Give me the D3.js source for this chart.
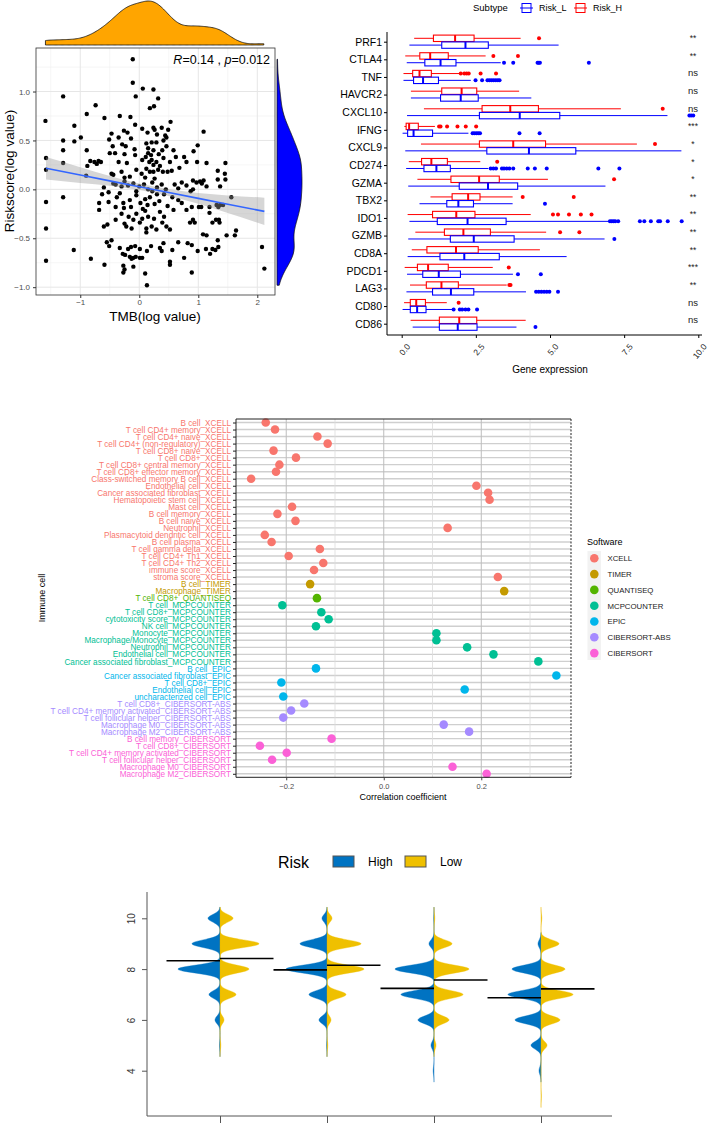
<!DOCTYPE html>
<html>
<head>
<meta charset="utf-8">
<script src="https://cdn.jsdelivr.net/npm/d3@7"></script>
<style>
body { margin: 0; background: #fff; }
svg { display: block; font-family: "Liberation Sans", Arial, sans-serif; }
</style>
</head>
<body>
<svg id="fig" width="709" height="1124"></svg>
<script>
// ---------- data: panel A (TMB vs riskscore) ----------
const scatterPts = [
  [-0.11,1.33],[-0.11,1.09],[0.06,1.03],[0.24,1.02],[-0.06,0.95],[-1.29,0.95],[0.32,0.93],[-0.74,0.86],[0.18,0.83],[0.25,0.85],
  [-0.89,0.77],[-0.59,0.73],[-0.33,0.75],[-0.15,0.74],[-1.59,0.70],[0.53,0.69],[-1.10,0.65],[-0.07,0.66],[0.05,0.62],[0.24,0.63],
  [0.26,0.61],[0.38,0.63],[-0.47,0.57],[-0.26,0.60],[-0.20,0.58],[1.09,0.59],[0.49,0.61],[0.14,0.58],[0.30,0.56],[0.44,0.55],
  [-1.29,0.50],[-0.99,0.53],[-1.10,0.49],[-0.51,0.51],[-0.35,0.53],[-0.14,0.52],[0.12,0.47],[0.21,0.48],[0.29,0.48],[0.41,0.50],
  [0.46,0.53],[0.99,0.45],[0.92,0.39],[-1.29,0.40],[-0.89,0.40],[-0.45,0.44],[-0.41,0.37],[-0.50,0.37],[-0.29,0.46],[-0.23,0.44],
  [-0.25,0.36],[-0.08,0.41],[-0.07,0.35],[0.15,0.42],[0.24,0.40],[0.39,0.40],[0.46,0.44],[0.58,0.40],[0.76,0.33],[0.80,0.28],
  [0.62,0.33],[-1.58,0.32],[-1.29,0.27],[-0.83,0.29],[-0.76,0.28],[-0.72,0.26],[-0.69,0.29],[-0.65,0.28],[-0.88,0.24],[-0.21,0.27],
  [0.11,0.33],[0.17,0.28],[0.21,0.30],[0.24,0.25],[0.29,0.28],[0.35,0.24],[0.41,0.32],[0.98,0.28],[1.14,0.27],[1.46,0.27],
  [0.15,0.37],[0.20,0.35],[0.05,0.30],[-0.35,0.28],[0.52,0.28],[0.68,0.22],[0.33,0.36],
  [1.33,0.19],[1.45,0.16],[1.46,0.10],[1.33,0.10],[-1.58,0.20],[-0.47,0.16],[-0.44,0.15],[-0.30,0.18],[-0.90,0.14],[-0.16,0.13],
  [-0.05,0.20],[0.04,0.16],[0.12,0.21],[0.18,0.18],[0.24,0.18],[0.32,0.20],[0.40,0.18],[0.48,0.18],[0.55,0.19],[-0.44,0.06],
  [-0.30,0.03],[-0.19,0.04],[0.91,0.09],[0.97,0.07],[1.03,0.08],[1.06,0.06],[1.09,0.09],[0.80,0.04],[0.87,-0.02],[0.91,0.00],
  [1.14,0.03],[1.37,0.03],[-0.60,0.02],[-0.52,-0.03],[-0.40,0.05],[-0.25,0.08],[-0.10,0.06],[0.00,0.03],[0.08,0.05],[0.15,0.00],
  [0.22,0.07],[0.30,0.02],[0.38,0.05],[0.45,0.00],[0.60,0.05],[0.66,0.01],[0.72,0.07],[-0.05,-0.02],[0.26,0.11],[-0.25,0.12],[0.10,0.12],
  [-1.58,-0.13],[-1.29,-0.08],[-0.63,-0.05],[-0.68,-0.14],[-0.68,-0.21],[-0.38,-0.08],[-0.33,-0.04],[-0.27,-0.14],[-0.26,-0.19],[-0.16,-0.11],
  [-0.05,-0.06],[0.02,-0.14],[0.10,-0.10],[0.18,-0.08],[0.26,-0.15],[0.34,-0.12],[0.42,-0.05],[0.56,-0.08],[0.58,-0.21],[0.66,-0.11],
  [0.72,-0.14],[0.80,-0.21],[0.89,-0.18],[1.01,-0.18],[1.05,-0.18],[1.19,-0.18],[1.31,-0.16],[1.34,-0.18],[1.37,-0.16],[1.42,-0.16],
  [1.56,-0.08],[-0.40,-0.18],[-0.14,-0.18],[0.06,-0.20],[0.30,-0.05],[0.48,-0.17],[-0.52,-0.13],[0.14,-0.16],[0.22,-0.02],
  [1.19,-0.24],[1.24,-0.34],[1.35,-0.31],[1.36,-0.34],[1.30,-0.31],[0.86,-0.34],[0.91,-0.31],[0.94,-0.34],[-0.54,-0.36],[-0.60,-0.38],
  [-1.58,-0.40],[-0.40,-0.31],[-0.25,-0.35],[-0.22,-0.38],[-0.13,-0.40],[-0.10,-0.31],[0.01,-0.34],[0.12,-0.40],[0.12,-0.44],[0.21,-0.38],
  [0.29,-0.41],[0.39,-0.34],[0.46,-0.38],[0.52,-0.41],[1.64,-0.42],[1.48,-0.47],[1.62,-0.47],[1.08,-0.46],[1.14,-0.47],[-0.30,-0.25],
  [-0.05,-0.25],[0.15,-0.28],[0.35,-0.23],[0.05,-0.30],[0.25,-0.30],[-0.18,-0.28],[0.42,-0.28],[0.10,-0.22],
  [0.66,-0.54],[0.82,-0.55],[0.89,-0.57],[1.33,-0.52],[1.34,-0.59],[1.24,-0.61],[1.29,-0.62],[-0.55,-0.54],[-0.47,-0.52],[-0.51,-0.58],
  [-1.11,-0.62],[-0.82,-0.71],[-0.59,-0.77],[-1.58,-0.73],[-0.33,-0.60],[-0.28,-0.66],[-0.24,-0.67],[-0.19,-0.61],[-0.14,-0.59],[-0.07,-0.58],
  [-0.16,-0.69],[-0.13,-0.71],[-0.10,-0.70],[-0.27,-0.78],[-0.25,-0.82],[-0.10,-0.79],[-0.06,-0.69],[0.01,-0.70],[0.05,-0.70],[0.13,-0.63],
  [0.20,-0.58],[0.35,-0.60],[0.38,-0.63],[0.41,-0.55],[0.01,-0.61],[0.52,-0.74],[0.52,-0.77],[0.76,-0.70],[0.89,-0.85],[0.10,-0.86],
  [0.13,-0.98],[-0.27,-0.85],[2.08,-0.59],[2.12,-0.81],[0.99,-0.63],[1.13,-0.61],[1.20,-0.66],[0.56,-0.62]
];
// fitted line and its confidence band
const fitX  = [-1.58, -1.0, -0.5, 0.0, 0.5, 1.0, 1.5, 2.12];
const fitY  = [0.215, 0.146, 0.087, 0.027, -0.033, -0.092, -0.152, -0.225];
const fitLo = [0.100, 0.066, 0.037, -0.006, -0.068, -0.147, -0.242, -0.365];
const fitHi = [0.330, 0.226, 0.137, 0.060, 0.002, -0.037, -0.062, -0.085];

// ---------- data: panel B (checkpoint genes) ----------
const genes = ['PRF1','CTLA4','TNF','HAVCR2','CXCL10','IFNG','CXCL9','CD274','GZMA','TBX2','IDO1','GZMB','CD8A','PDCD1','LAG3','CD80','CD86'];
const sigLabels = ['**','**','ns','ns','ns','***','*','*','*','**','**','**','**','***','**','ns','ns'];
// [lower whisker, q1, median, q3, upper whisker]
const boxH = [
  [0.42,1.07,1.80,2.44,4.01],[0.12,0.61,0.96,1.57,2.83],[0.06,0.37,0.60,1.00,1.97],[0.31,1.35,2.02,2.53,3.96],
  [0.75,2.71,3.66,4.61,7.39],[0.09,0.15,0.25,0.56,1.12],[0.65,2.62,3.76,4.85,7.93],[0.24,0.67,1.00,1.54,2.65],
  [0.53,1.66,2.61,3.29,4.93],[0.97,1.70,2.24,2.64,3.74],[0.20,1.04,1.84,2.47,4.35],[0.46,1.44,2.08,2.99,4.87],
  [0.34,0.85,1.83,2.58,4.66],[0.10,0.53,0.89,1.57,3.07],[0.28,0.83,1.34,1.91,3.54],[0.08,0.29,0.49,0.80,1.52],
  [0.30,1.27,1.94,2.53,4.18]
];
const boxL = [
  [0.26,1.35,2.15,2.92,5.29],[0.17,0.78,1.31,1.83,3.34],[0.06,0.40,0.72,1.24,2.33],[0.31,1.31,1.99,2.58,4.37],
  [0.18,2.62,3.98,5.33,8.96],[0.03,0.20,0.40,1.04,2.25],[0.12,2.87,4.29,5.87,9.43],[0.15,0.75,1.17,1.64,2.92],
  [0.22,1.94,2.91,3.91,6.87],[0.60,1.52,1.91,2.42,3.74],[0.26,1.20,2.22,3.52,6.97],[0.22,1.64,2.43,3.79,6.84],
  [0.20,1.29,2.11,3.29,5.56],[0.18,0.71,1.25,1.98,3.75],[0.16,1.04,1.66,2.43,4.19],[0.03,0.29,0.52,0.82,1.73],
  [0.37,1.27,1.89,2.54,3.87]
];
const outH = [
  [4.63],[3.09,3.92],[1.99,2.11,2.19,2.26,2.66,3.18],[],[8.80],[1.26,1.31,1.53,1.88,2.16,2.51],[8.54],[3.22],
  [7.16],[4.08,5.80],[5.10,5.27,5.64,6.04,6.40],[5.34,5.99],[],[3.61],[3.63,3.67],[1.92],[]
];
const outL = [
  [],[3.45,3.76,4.58,4.62,4.66,6.31],[2.49,2.71,2.89,2.96,3.03,3.10,3.17,3.24,3.30],[],[9.70,9.76,9.83],
  [2.39,2.45,2.52,2.58,2.64,3.97,4.65],[],[3.00,3.09,3.18,3.38,3.45,3.54,3.63,3.76,4.25,4.49,4.89,6.63,7.34],
  [],[4.83],[7.02,7.08,7.14,7.20,7.30,8.03,8.18,8.40,8.65,8.71,8.97,9.44],[7.17],[],[3.92,4.69],
  [4.53,4.62,4.71,4.80,4.89,4.98,5.27],[1.75,1.96,2.04,2.15,2.25,2.54],[4.51]
];
const xTicksB = [0, 2.5, 5, 7.5, 10];

// ---------- data: panel C (immune cell correlation) ----------
const cellLabels = [
  'B cell_XCELL','T cell CD4+ memory_XCELL','T cell CD4+ naive_XCELL','T cell CD4+ (non-regulatory)_XCELL',
  'T cell CD8+ naive_XCELL','T cell CD8+_XCELL','T cell CD8+ central memory_XCELL','T cell CD8+ effector memory_XCELL',
  'Class-switched memory B cell_XCELL','Endothelial cell_XCELL','Cancer associated fibroblast_XCELL',
  'Hematopoietic stem cell_XCELL','Mast cell_XCELL','B cell memory_XCELL','B cell naive_XCELL','Neutrophil_XCELL',
  'Plasmacytoid dendritic cell_XCELL','B cell plasma_XCELL','T cell gamma delta_XCELL','T cell CD4+ Th1_XCELL',
  'T cell CD4+ Th2_XCELL','immune score_XCELL','stroma score_XCELL','B cell_TIMER','Macrophage_TIMER',
  'T cell CD8+_QUANTISEQ','T cell_MCPCOUNTER','T cell CD8+_MCPCOUNTER','cytotoxicity score_MCPCOUNTER',
  'NK cell_MCPCOUNTER','Monocyte_MCPCOUNTER','Macrophage/Monocyte_MCPCOUNTER','Neutrophil_MCPCOUNTER',
  'Endothelial cell_MCPCOUNTER','Cancer associated fibroblast_MCPCOUNTER','B cell_EPIC',
  'Cancer associated fibroblast_EPIC','T cell CD8+_EPIC','Endothelial cell_EPIC','uncharacterized cell_EPIC',
  'T cell CD8+_CIBERSORT-ABS','T cell CD4+ memory activated_CIBERSORT-ABS','T cell follicular helper_CIBERSORT-ABS',
  'Macrophage M0_CIBERSORT-ABS','Macrophage M2_CIBERSORT-ABS','B cell memory_CIBERSORT','T cell CD8+_CIBERSORT',
  'T cell CD4+ memory activated_CIBERSORT','T cell follicular helper_CIBERSORT','Macrophage M0_CIBERSORT',
  'Macrophage M2_CIBERSORT'
];
const cellCor = [
  -0.242,-0.223,-0.136,-0.115,-0.226,-0.180,-0.214,-0.221,-0.272,0.190,0.214,0.217,-0.188,-0.218,-0.181,0.131,
  -0.244,-0.230,-0.131,-0.195,-0.124,-0.143,0.234,-0.151,0.247,-0.137,-0.208,-0.128,-0.113,-0.139,0.108,0.108,
  0.171,0.225,0.317,-0.139,0.354,-0.210,0.166,-0.206,-0.163,-0.190,-0.206,0.123,0.175,-0.107,-0.254,-0.199,
  -0.229,0.141,0.211
];
const software = ['XCELL','TIMER','QUANTISEQ','MCPCOUNTER','EPIC','CIBERSORT-ABS','CIBERSORT'];
const swColors = ['#F8766D','#C49A00','#53B400','#00C094','#00B6EB','#A58AFF','#FB61D7'];

// ---------- data: panel D (split violins) ----------
const vioGroups = ['G1','G2','G3','G4'];
const vioLevels = [3,4,5,6,7,8,9,10];
const highFreq = [
  [0, 0, 0.5, 5, 11, 42, 28, 12],
  [0, 0, 0.4, 8, 18, 41, 27, 5],
  [0, 0.8, 3, 16, 33, 39, 5, 0.3],
  [0, 2, 10, 26, 33, 29, 3, 0]
];
const lowFreq = [
  [0, 0, 0.8, 4, 16, 29, 39, 13],
  [0, 0, 0.8, 4, 19, 37, 34, 5],
  [0, 0, 2, 15, 29, 35, 18, 0.8],
  [0.4, 0, 6, 19, 32, 24, 18, 0.8]
];
const highMean = [8.33, 7.97, 7.24, 6.87];
const lowMean  = [8.42, 8.15, 7.57, 7.22];
const yTicksD = [4, 6, 8, 10];

const svg = d3.select('#fig');
const minus = s => String(s).replace('-', '\u2212');

function kde(values, bw, grid) {
  return grid.map(g => [g, d3.mean(values, v => Math.exp(-0.5 * ((g - v) / bw) ** 2))]);
}

// =============== Panel A ===============
function drawScatter() {
  const g = svg.append('g');
  const ax = d3.scaleLinear().domain([-1.75, 2.3]).range([36, 275]);
  const ay = d3.scaleLinear().domain([-1.08, 1.445]).range([295, 48]);

  g.append('rect').attr('x', 36).attr('y', 48).attr('width', 239).attr('height', 247).attr('fill', '#fff');
  [-1.5, -0.5, 0.5, 1.5].forEach(v => g.append('line').attr('x1', ax(v)).attr('x2', ax(v)).attr('y1', 48).attr('y2', 295)
    .attr('stroke', '#F0F0F0').attr('stroke-width', 0.6));
  [-0.75, -0.25, 0.25, 0.75, 1.25].forEach(v => g.append('line').attr('y1', ay(v)).attr('y2', ay(v)).attr('x1', 36).attr('x2', 275)
    .attr('stroke', '#F0F0F0').attr('stroke-width', 0.6));
  [-1, 0, 1, 2].forEach(v => g.append('line').attr('x1', ax(v)).attr('x2', ax(v)).attr('y1', 48).attr('y2', 295)
    .attr('stroke', '#E6E6E6').attr('stroke-width', 1));
  [-1, -0.5, 0, 0.5, 1].forEach(v => g.append('line').attr('y1', ay(v)).attr('y2', ay(v)).attr('x1', 36).attr('x2', 275)
    .attr('stroke', '#E6E6E6').attr('stroke-width', 1));

  g.selectAll('circle.pt').data(scatterPts).enter().append('circle')
    .attr('cx', d => ax(d[0])).attr('cy', d => ay(d[1])).attr('r', 2.2).attr('fill', '#000');

  const band = fitX.map((x, i) => ({ x, lo: fitLo[i], hi: fitHi[i], y: fitY[i] }));
  g.append('path').datum(band)
    .attr('d', d3.area().x(d => ax(d.x)).y0(d => ay(d.lo)).y1(d => ay(d.hi)).curve(d3.curveMonotoneX))
    .attr('fill', '#999').attr('opacity', 0.4);
  g.append('path').datum(band)
    .attr('d', d3.line().x(d => ax(d.x)).y(d => ay(d.y)))
    .attr('fill', 'none').attr('stroke', '#3366FF').attr('stroke-width', 1.6);

  g.append('rect').attr('x', 36).attr('y', 48).attr('width', 239).attr('height', 247)
    .attr('fill', 'none').attr('stroke', '#333').attr('stroke-width', 0.8);

  // axes
  const xa = g.append('g').attr('transform', 'translate(0,295)')
    .call(d3.axisBottom(ax).tickValues([-1, 0, 1, 2]).tickSize(3).tickPadding(1.5).tickFormat(d => minus(d)));
  const ya = g.append('g').attr('transform', 'translate(36,0)')
    .call(d3.axisLeft(ay).tickValues([-1, -0.5, 0, 0.5, 1]).tickSize(3).tickFormat(d => minus(d3.format('.1f')(d))));
  [xa, ya].forEach(a => {
    a.select('.domain').remove();
    a.selectAll('line').attr('stroke', '#333');
    a.selectAll('text').attr('fill', '#4D4D4D').attr('font-size', 8).attr('font-family', 'Liberation Sans, Arial');
  });

  g.append('text').attr('x', 155).attr('y', 321).attr('text-anchor', 'middle').attr('font-size', 13.5).text('TMB(log value)');
  g.append('text').attr('transform', 'translate(14,171) rotate(-90)').attr('text-anchor', 'middle')
    .attr('font-size', 13.5).text('Riskscore(log value)');

  const rt = g.append('text').attr('x', 270).attr('y', 64).attr('text-anchor', 'end').attr('font-size', 12.5);
  rt.append('tspan').attr('font-style', 'italic').text('R');
  rt.append('tspan').text('=0.14 , ');
  rt.append('tspan').attr('font-style', 'italic').text('p');
  rt.append('tspan').text('=0.012');

  // marginal densities
  const xs = scatterPts.map(d => d[0]);
  const ys = scatterPts.map(d => d[1]);
  const topD = kde(xs, 0.17, d3.range(d3.min(xs), d3.max(xs) + 0.001, 0.02));
  const th = d3.scaleLinear().domain([0, d3.max(topD, d => d[1])]).range([45, 1]);
  g.append('path').datum(topD)
    .attr('d', d3.area().x(d => ax(d[0])).y0(45).y1(d => th(d[1])).curve(d3.curveBasis))
    .attr('fill', '#FFA500').attr('stroke', '#111').attr('stroke-width', 0.8);

  const rightD = kde(ys, 0.12, d3.range(d3.min(ys), d3.max(ys) + 0.001, 0.01));
  const rw = d3.scaleLinear().domain([0, d3.max(rightD, d => d[1])]).range([277, 302]);
  g.append('path').datum(rightD)
    .attr('d', d3.area().y(d => ay(d[0])).x0(277).x1(d => rw(d[1])).curve(d3.curveBasis))
    .attr('fill', '#0000FF').attr('stroke', '#111').attr('stroke-width', 0.8);
}

// =============== Panel B ===============
function drawBoxes() {
  const g = svg.append('g');
  const by = d3.scalePoint().domain(genes).range([41.7, 323.7]);
  const bx = d3.scaleLinear().domain([0, 10]).range([401.7, 698.3]);

  function box(stats, outs, gene, off, color) {
    const yc = by(gene) + off;
    const [lo, q1, md, q3, hi] = stats;
    g.append('line').attr('x1', bx(lo)).attr('x2', bx(q1)).attr('y1', yc).attr('y2', yc).attr('stroke', color).attr('stroke-width', 1);
    g.append('line').attr('x1', bx(q3)).attr('x2', bx(hi)).attr('y1', yc).attr('y2', yc).attr('stroke', color).attr('stroke-width', 1);
    g.append('rect').attr('x', bx(q1)).attr('y', yc - 3.2).attr('width', bx(q3) - bx(q1)).attr('height', 6.4)
      .attr('fill', 'none').attr('stroke', color).attr('stroke-width', 1.1);
    g.append('line').attr('x1', bx(md)).attr('x2', bx(md)).attr('y1', yc - 3.2).attr('y2', yc + 3.2)
      .attr('stroke', color).attr('stroke-width', 2);
    outs.forEach(v => g.append('circle').attr('cx', bx(v)).attr('cy', yc).attr('r', 2).attr('fill', color));
  }
  genes.forEach((gene, i) => {
    box(boxH[i], outH[i], gene, -3.4, '#FF0000');
    box(boxL[i], outL[i], gene, 3.4, '#0000FF');
    g.append('text').attr('x', 693).attr('y', by(gene) - 0.5).attr('text-anchor', 'middle')
      .attr('font-size', sigLabels[i] === 'ns' ? 9.5 : 8.5).attr('fill', '#222').text(sigLabels[i]);
  });

  // y axis
  const ya = g.append('g').attr('transform', 'translate(387,0)').call(d3.axisLeft(by).tickSize(3).tickPadding(2));
  ya.select('.domain').attr('d', 'M0,32V335').attr('stroke', '#000');
  ya.selectAll('line').attr('stroke', '#000');
  ya.selectAll('text').attr('font-size', 10.5).attr('fill', '#000').attr('font-family', 'Liberation Sans, Arial');

  // x axis
  const xa = g.append('g').attr('transform', 'translate(0,335)')
    .call(d3.axisBottom(bx).tickValues(xTicksB).tickSize(3).tickFormat(d3.format('.1f')));
  xa.select('.domain').attr('d', 'M387,0H702').attr('stroke', '#000');
  xa.selectAll('line').attr('stroke', '#000');
  xa.selectAll('text').attr('font-size', 8.5).attr('fill', '#222').attr('font-family', 'Liberation Sans, Arial')
    .attr('text-anchor', 'end').attr('dy', 0).attr('transform', 'translate(4,8) rotate(-50)');
  g.append('text').attr('x', 550).attr('y', 373).attr('text-anchor', 'middle').attr('font-size', 10).text('Gene expression');

  // legend
  g.append('text').attr('x', 473).attr('y', 11).attr('font-size', 9.5).text('Subtype');
  [['Risk_L', '#0000FF', 520], ['Risk_H', '#FF0000', 574]].forEach(([lab, col, x0]) => {
    g.append('line').attr('x1', x0).attr('x2', x0 + 13).attr('y1', 8).attr('y2', 8).attr('stroke', col).attr('stroke-width', 1);
    g.append('rect').attr('x', x0 + 2).attr('y', 3.5).attr('width', 9).attr('height', 9).attr('fill', '#fff').attr('stroke', col).attr('stroke-width', 1);
    g.append('line').attr('x1', x0 + 2).attr('x2', x0 + 11).attr('y1', 8).attr('y2', 8).attr('stroke', col).attr('stroke-width', 1);
    g.append('text').attr('x', x0 + 19).attr('y', 11).attr('font-size', 9).text(lab);
  });
}

// =============== Panel C ===============
function drawCor() {
  const g = svg.append('g');
  const cx = d3.scaleLinear().domain([-0.303, 0.384]).range([236, 571]);
  const cy = d3.scalePoint().domain(cellLabels).range([419, 777.3]).padding(0.5);
  const col = d3.scaleOrdinal().domain(software).range(swColors);
  const swOf = lab => lab.slice(lab.lastIndexOf('_') + 1);

  g.append('rect').attr('x', 236).attr('y', 419).attr('width', 335).attr('height', 358.3).attr('fill', '#fff');
  cellLabels.forEach(lab => g.append('line').attr('x1', 236).attr('x2', 571).attr('y1', cy(lab)).attr('y2', cy(lab))
    .attr('stroke', '#CFCFCF').attr('stroke-width', 1.4));
  [-0.1, 0.1, 0.3].forEach(v => g.append('line').attr('x1', cx(v)).attr('x2', cx(v)).attr('y1', 419).attr('y2', 777.3)
    .attr('stroke', '#DCDCDC').attr('stroke-width', 0.8));
  [-0.2, 0, 0.2].forEach(v => g.append('line').attr('x1', cx(v)).attr('x2', cx(v)).attr('y1', 419).attr('y2', 777.3)
    .attr('stroke', '#BDBDBD').attr('stroke-width', 1));

  g.selectAll('circle.dot').data(cellLabels).enter().append('circle')
    .attr('cx', (d, i) => cx(cellCor[i])).attr('cy', d => cy(d)).attr('r', 4.3)
    .attr('fill', d => col(swOf(d)));

  // frame
  g.append('line').attr('x1', 236).attr('x2', 571).attr('y1', 419).attr('y2', 419).attr('stroke', '#222').attr('stroke-width', 1);
  g.append('line').attr('x1', 236).attr('x2', 571).attr('y1', 777.3).attr('y2', 777.3).attr('stroke', '#222').attr('stroke-width', 1);
  g.append('line').attr('x1', 571).attr('x2', 571).attr('y1', 419).attr('y2', 777.3).attr('stroke', '#222')
    .attr('stroke-width', 1).attr('stroke-dasharray', '2,1.5');

  const ya = g.append('g').attr('transform', 'translate(236,0)').call(d3.axisLeft(cy).tickSize(3).tickPadding(2));
  ya.select('.domain').attr('d', 'M0,419V777.3').attr('stroke', '#222');
  ya.selectAll('line').attr('stroke', '#222');
  ya.selectAll('text').attr('font-size', 8.2).attr('font-family', 'Liberation Sans, Arial')
    .attr('fill', d => col(swOf(d)));

  const xa = g.append('g').attr('transform', 'translate(0,777.3)')
    .call(d3.axisBottom(cx).tickValues([-0.2, 0, 0.2]).tickSize(3).tickFormat(d => minus(d3.format('.1f')(d))));
  xa.select('.domain').remove();
  xa.selectAll('line').attr('stroke', '#444');
  xa.selectAll('text').attr('font-size', 7.5).attr('fill', '#4D4D4D').attr('font-family', 'Liberation Sans, Arial');

  g.append('text').attr('x', 403).attr('y', 800).attr('text-anchor', 'middle').attr('font-size', 9).text('Correlation coefficient');
  g.append('text').attr('transform', 'translate(45,598) rotate(-90)').attr('text-anchor', 'middle')
    .attr('font-size', 9).text('Immune cell');

  // legend
  g.append('text').attr('x', 587).attr('y', 545).attr('font-size', 9).text('Software');
  g.append('rect').attr('x', 587.5).attr('y', 551).attr('width', 13.5).attr('height', 109).attr('fill', '#F2F2F2');
  software.forEach((s, i) => {
    const y = 558.3 + i * 15.8;
    g.append('circle').attr('cx', 594.3).attr('cy', y).attr('r', 4.3).attr('fill', col(s));
    g.append('text').attr('x', 607.5).attr('y', y + 2.8).attr('font-size', 7.8).attr('fill', '#222').text(s);
  });
}

// =============== Panel D ===============
function drawViolins() {
  const g = svg.append('g');
  const vx = d3.scalePoint().domain(vioGroups).range([220, 541]);
  const vy = d3.scaleLinear().domain([4, 10]).range([1070.7, 918.3]);
  const maxF = d3.max([...highFreq.flat(), ...lowFreq.flat()]);
  const vw = d3.scaleLinear().domain([0, maxF]).range([0, 42]);
  const half = vx.step() / 2;

  function density(freqs) {
    const used = vioLevels.filter((l, i) => freqs[i] > 0);
    const grid = d3.range(d3.min(used) - 0.45, d3.max(used) + 0.45, 0.01);
    return grid.map(y => [y, d3.sum(vioLevels, (l, i) => freqs[i] * Math.exp(-0.5 * ((y - l) / 0.15) ** 2))]);
  }

  vioGroups.forEach((grp, i) => {
    const c = vx(grp);
    g.append('path').datum(density(highFreq[i]))
      .attr('d', d3.area().y(d => vy(d[0])).x0(c).x1(d => c - vw(d[1])))
      .attr('fill', '#0073C2').attr('stroke', '#0073C2').attr('stroke-width', 0.4);
    g.append('path').datum(density(lowFreq[i]))
      .attr('d', d3.area().y(d => vy(d[0])).x0(c).x1(d => c + vw(d[1])))
      .attr('fill', '#EFC000').attr('stroke', '#EFC000').attr('stroke-width', 0.4);
  });
  vioGroups.forEach((grp, i) => {
    const c = vx(grp);
    g.append('line').attr('x1', c - half).attr('x2', c).attr('y1', vy(highMean[i])).attr('y2', vy(highMean[i]))
      .attr('stroke', '#000').attr('stroke-width', 1.6);
    g.append('line').attr('x1', c).attr('x2', c + half).attr('y1', vy(lowMean[i])).attr('y2', vy(lowMean[i]))
      .attr('stroke', '#000').attr('stroke-width', 1.6);
  });

  // L-shaped frame
  g.append('path').attr('d', 'M147,892V1116H612').attr('fill', 'none').attr('stroke', '#555').attr('stroke-width', 1);
  const ya = g.append('g').attr('transform', 'translate(147,0)')
    .call(d3.axisLeft(vy).tickValues(yTicksD).tickSize(5).tickFormat(d3.format('d')));
  ya.select('.domain').remove();
  ya.selectAll('line').attr('stroke', '#555');
  ya.selectAll('text').attr('font-size', 10).attr('fill', '#333').attr('font-family', 'Liberation Sans, Arial')
    .attr('text-anchor', 'middle').attr('x', 0).attr('dy', 0)
    .attr('transform', 'translate(-12,0) rotate(-90)');
  const xa = g.append('g').attr('transform', 'translate(0,1116)')
    .call(d3.axisBottom(vx).tickSize(7).tickFormat(''));
  xa.select('.domain').remove();
  xa.selectAll('line').attr('stroke', '#555');

  // legend
  g.append('text').attr('x', 278).attr('y', 868).attr('font-size', 16).text('Risk');
  [['High', '#0073C2', 333], ['Low', '#EFC000', 405]].forEach(([lab, col, x0]) => {
    g.append('rect').attr('x', x0).attr('y', 856).attr('width', 21).attr('height', 11)
      .attr('fill', col).attr('stroke', '#555').attr('stroke-width', 1);
    g.append('text').attr('x', x0 + 35).attr('y', 866).attr('font-size', 12).text(lab);
  });
}

drawScatter();
drawBoxes();
drawCor();
drawViolins();
</script>
</body>
</html>
